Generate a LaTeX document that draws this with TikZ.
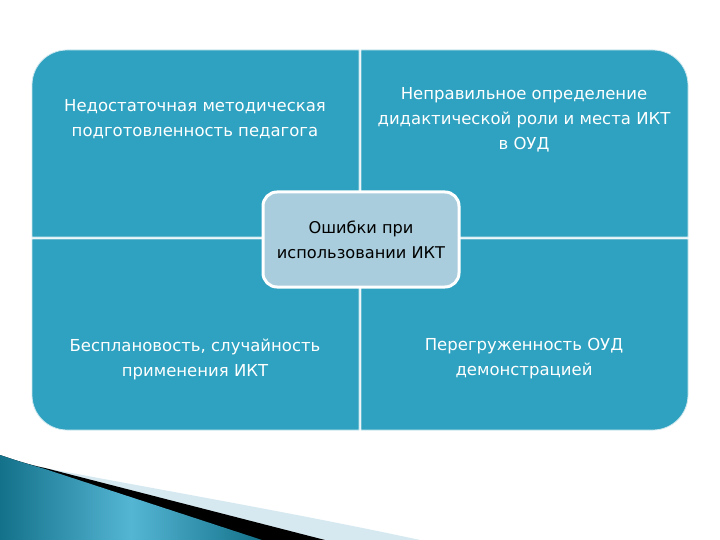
\documentclass[tikz,border=0pt]{standalone}
\usepackage{fontspec}
\setmainfont{DejaVu Sans}
\usetikzlibrary{positioning}
\definecolor{quad}{HTML}{2EA2C0}
\definecolor{quadedge}{HTML}{CFE8EF}
\definecolor{centerfill}{HTML}{A9CDDC}
\definecolor{swdark}{HTML}{13718A}
\definecolor{swmid}{HTML}{55B6D4}
\definecolor{swlight}{HTML}{D6E9F0}
\tikzset{
  quadbox/.style={fill=quad,draw=quadedge,line width=0.8pt},
  quadtext/.style={text=white,align=center,font=\fontsize{16.5}{25}\selectfont,inner sep=0pt},
  centerbox/.style={fill=centerfill,draw=white,line width=3pt,rounded corners=14pt,minimum width=196pt,minimum height=95pt,align=center,font=\fontsize{16.2}{25}\selectfont,text=black}
}
\begin{document}
\begin{tikzpicture}[x=1pt,y=-1pt]
\useasboundingbox (0,0) rectangle (720,540);
\fill[white] (0,0) rectangle (720,540);
% quadrants
\draw[quadbox] (32,237) [rounded corners=35pt] -- (32,50) [sharp corners] -- (359,50) -- (359,237) -- cycle;
\draw[quadbox] (361,237) -- (361,50) [rounded corners=35pt] -- (688,50) [sharp corners] -- (688,237) -- cycle;
\draw[quadbox] (359,239) -- (32,239) [rounded corners=35pt] -- (32,430) [sharp corners] -- (359,430) -- cycle;
\draw[quadbox] (361,239) -- (688,239) [rounded corners=35pt] -- (688,430) [sharp corners] -- (361,430) -- cycle;
% texts
\node[quadtext] (tl) at (195,119) {Недостаточная методическая\\подготовленность педагога};
\node[quadtext] (tr) at (524,120) {Неправильное определение\\дидактической роли и места ИКТ\\в ОУД};
\node[quadtext] (bl) at (195,359) {Бесплановость, случайность\\применения ИКТ};
\node[quadtext] (br) at (524,359) {Перегруженность ОУД\\демонстрацией};
\node[centerbox] (c) at (361,239.5) {Ошибки при\\использовании ИКТ};
% bottom swoosh
\fill[swlight] (0,455) .. controls (20,462) and (35,466) .. (45,468) .. controls (150,488) and (300,514) .. (420,540) -- (0,540) -- cycle;
\fill[black] (0,455) .. controls (20,462) and (35,466) .. (45,468) -- (325,540) -- (0,540) -- cycle;
\shade[left color=swdark,right color=swdark,middle color=swmid] (0,455) .. controls (20,462) and (35,466) .. (45,469) -- (262,540) -- (0,540) -- cycle;
\end{tikzpicture}
\end{document}
